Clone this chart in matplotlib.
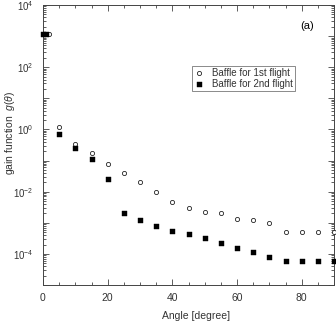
import matplotlib
matplotlib.use("Agg")
import matplotlib.pyplot as plt
import matplotlib.ticker as ticker
import numpy as np

plt.rcParams["font.family"] = ["Liberation Sans", "DejaVu Sans"]
plt.rcParams["mathtext.fontset"] = "custom"
plt.rcParams["mathtext.rm"] = "Liberation Sans"
plt.rcParams["mathtext.it"] = "Liberation Sans:italic"

# ---------------------------------------------------------------------------
# Data
# ---------------------------------------------------------------------------
angle_1st = [0, 2, 5, 10, 15, 20, 25, 30, 35, 40, 45, 50, 55, 60, 65, 70, 75, 80, 85, 90]
gain_1st = [1170, 1170, 1.2, 0.34, 0.17, 0.079, 0.039, 0.021, 0.0098, 0.0048, 0.003,
            0.0022, 0.002, 0.00134, 0.0012, 0.00098, 0.0005, 0.0005, 0.0005, 0.0005]

angle_2nd = [0, 1, 5, 10, 15, 20, 25, 30, 35, 40, 45, 50, 55, 60, 65, 70, 75, 80, 85, 90]
gain_2nd = [1170, 1170, 0.7, 0.26, 0.11, 0.026, 0.002, 0.0012, 0.00076, 0.00055, 0.00043,
            0.00032, 0.00023, 0.00016, 0.000113, 0.000082, 0.000057, 0.000057, 0.000057, 0.000057]

labels = ["Baffle for 1st flight", "Baffle for 2nd flight"]
txt = "#333333"

fig = plt.figure(figsize=(3.36, 3.22), dpi=100)
ax = fig.add_axes([43 / 336, 37 / 322, 291 / 336, 280 / 322])

ax.plot(angle_1st, gain_1st, ls="none", marker="o", ms=3.0, mfc="white",
        mec="#222222", mew=0.6, clip_on=False, label=labels[0], zorder=3)
ax.plot(angle_2nd, gain_2nd, ls="none", marker="s", ms=3.6, mfc="black",
        mec="black", mew=0.3, clip_on=False, label=labels[1], zorder=4)

ax.set_yscale("log")
ax.set_xlim(0, 90)
ax.set_ylim(1e-5, 1e4)

ax.xaxis.set_major_locator(ticker.MultipleLocator(20))
ax.xaxis.set_minor_locator(ticker.MultipleLocator(5))
ax.yaxis.set_major_locator(ticker.LogLocator(base=10, numticks=20))
ax.yaxis.set_minor_locator(ticker.LogLocator(base=10, subs=np.arange(2, 10), numticks=20))


def ylab(v, pos):
    e = int(round(np.log10(v)))
    if e % 2 == 0 and e > -5:
        return r"$10^{%d}$" % e
    return ""


ax.yaxis.set_major_formatter(ticker.FuncFormatter(ylab))
ax.tick_params(which="both", direction="in", top=True, right=True,
               labelsize=7.5, labelcolor=txt, color="#444444", width=0.6)
ax.tick_params(which="major", length=4)
ax.tick_params(which="minor", length=2)
ax.tick_params(axis="x", pad=6)
ax.tick_params(axis="y", pad=7, labelsize=7)
for s in ax.spines.values():
    s.set_linewidth(0.7)
    s.set_color("#444444")

fig.text(196 / 336, 1 - 316 / 322, "Angle [degree]", ha="center", va="center",
         fontsize=7.5, color=txt)
fig.text(10 / 336, 1 - 133 / 322, "gain function  $g(\\theta)$", ha="center",
         va="center", rotation=90, fontsize=7.5, color=txt)
fig.text(307 / 336, 1 - 26 / 322, "(a)", ha="center", va="center",
         fontsize=8, color="black")

leg = ax.legend(loc="upper left", bbox_to_anchor=((192 - 43) / 291, (285 - 66) / 280),
                fontsize=7, frameon=True, fancybox=False, edgecolor="#555555",
                handlelength=1.0, handletextpad=0.8, borderpad=0.25,
                labelspacing=0.05, borderaxespad=0)
leg.get_frame().set_linewidth(0.6)
for t in leg.get_texts():
    t.set_color(txt)

fig.savefig("out.png", dpi=100)
